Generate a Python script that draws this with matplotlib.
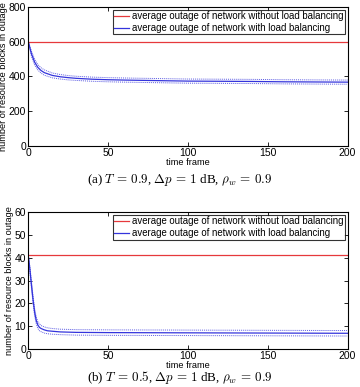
import matplotlib
matplotlib.use("Agg")
import matplotlib.pyplot as plt

plt.rcParams['font.family'] = ['Liberation Sans', 'DejaVu Sans']
plt.rcParams['mathtext.fontset'] = 'cm'

# ---- data ----
t_a = [0, 2, 4, 6, 8, 10, 15, 20, 25, 30, 40, 50, 60, 80, 100, 120, 140, 160, 180, 200]
mean_a = [600, 530, 482, 452, 434, 422, 406, 398, 393, 389, 384, 381, 379, 376, 373, 372, 371, 369, 368, 367]
upper_a = [600, 545, 498, 468, 450, 438, 420, 411, 405, 401, 396, 393, 391, 388, 385, 384, 383, 381, 380, 379]
lower_a = [600, 515, 466, 437, 419, 407, 392, 385, 380, 377, 372, 369, 367, 364, 361, 360, 359, 357, 356, 355]
base_a = 600

t_b = [0, 1, 2, 3, 4, 5, 6, 7, 8, 10, 12, 15, 20, 30, 50, 100, 150, 200]
mean_b = [41, 35, 28, 21.5, 16, 12.5, 10.5, 9.5, 9.0, 8.4, 8.0, 7.8, 7.5, 7.3, 7.2, 7.1, 7.0, 6.9]
upper_b = [41, 36, 29.5, 23, 17.5, 14, 12, 11, 10.3, 9.7, 9.3, 9.0, 8.7, 8.5, 8.4, 8.3, 8.2, 8.1]
lower_b = [41, 34, 26.5, 20, 14.5, 11, 9, 8, 7.6, 7.0, 6.7, 6.5, 6.3, 6.1, 6.0, 5.9, 5.8, 5.7]
base_b = 41.5

xticks = [0, 50, 100, 150, 200]
yticks_a = [0, 200, 400, 600, 800]
yticks_b = [0, 10, 20, 30, 40, 50, 60]

label_no = 'average outage of network without load balancing'
label_lb = 'average outage of network with load balancing'
cap_a = r'(a) $T\,=\,0.9$, $\Delta p\,=\,1$ dB, $\rho_w\,=\,0.9$'
cap_b = r'(b) $T\,=\,0.5$, $\Delta p\,=\,1$ dB, $\rho_w\,=\,0.9$'

RED = '#e6393c'
BLUE = '#3434dc'

fig = plt.figure(figsize=(3.6, 3.87), dpi=100)
ax1 = fig.add_axes([0.0786, 0.6235, 0.887, 0.358])
ax2 = fig.add_axes([0.0786, 0.0982, 0.887, 0.353])

def draw(ax, t, mean, up, lo, base, yticks, ymax, cap, cap_y):
    ax.plot([0, 200], [base, base], color=RED, lw=0.9, label=label_no)
    ax.plot(t, mean, color=BLUE, lw=0.9, label=label_lb)
    ax.plot(t, up, color=BLUE, lw=0.7, ls=(0, (1, 1)), alpha=0.8)
    ax.plot(t, lo, color=BLUE, lw=0.7, ls=(0, (1, 1)), alpha=0.8)
    ax.set_xlim(0, 200)
    ax.set_ylim(0, ymax)
    ax.set_xticks(xticks)
    ax.set_yticks(yticks)
    ax.tick_params(direction='in', length=3, width=0.6, labelsize=7.5, pad=1.5,
                   top=True, right=True)
    for s in ax.spines.values():
        s.set_linewidth(0.8)
    ax.set_xlabel('time frame', fontsize=6.7, labelpad=0)
    ax.set_ylabel('number of resource blocks in outage', fontsize=6.6, labelpad=0.5)
    leg = ax.legend(loc='upper right', fontsize=6.9, frameon=True, fancybox=False,
                    borderpad=0.15, labelspacing=0.2, handlelength=1.6,
                    handletextpad=0.3, borderaxespad=0.25)
    leg.get_frame().set_edgecolor('black')
    leg.get_frame().set_linewidth(0.8)
    fig.text(0.5, cap_y, cap, ha='center', va='center', fontsize=9.4,
             family=['Liberation Serif', 'DejaVu Serif'])

draw(ax1, t_a, mean_a, upper_a, lower_a, base_a, yticks_a, 800, cap_a, 1 - 180 / 387)
draw(ax2, t_b, mean_b, upper_b, lower_b, base_b, yticks_b, 60, cap_b, 1 - 378 / 387)

fig.savefig('out.png', dpi=100)
